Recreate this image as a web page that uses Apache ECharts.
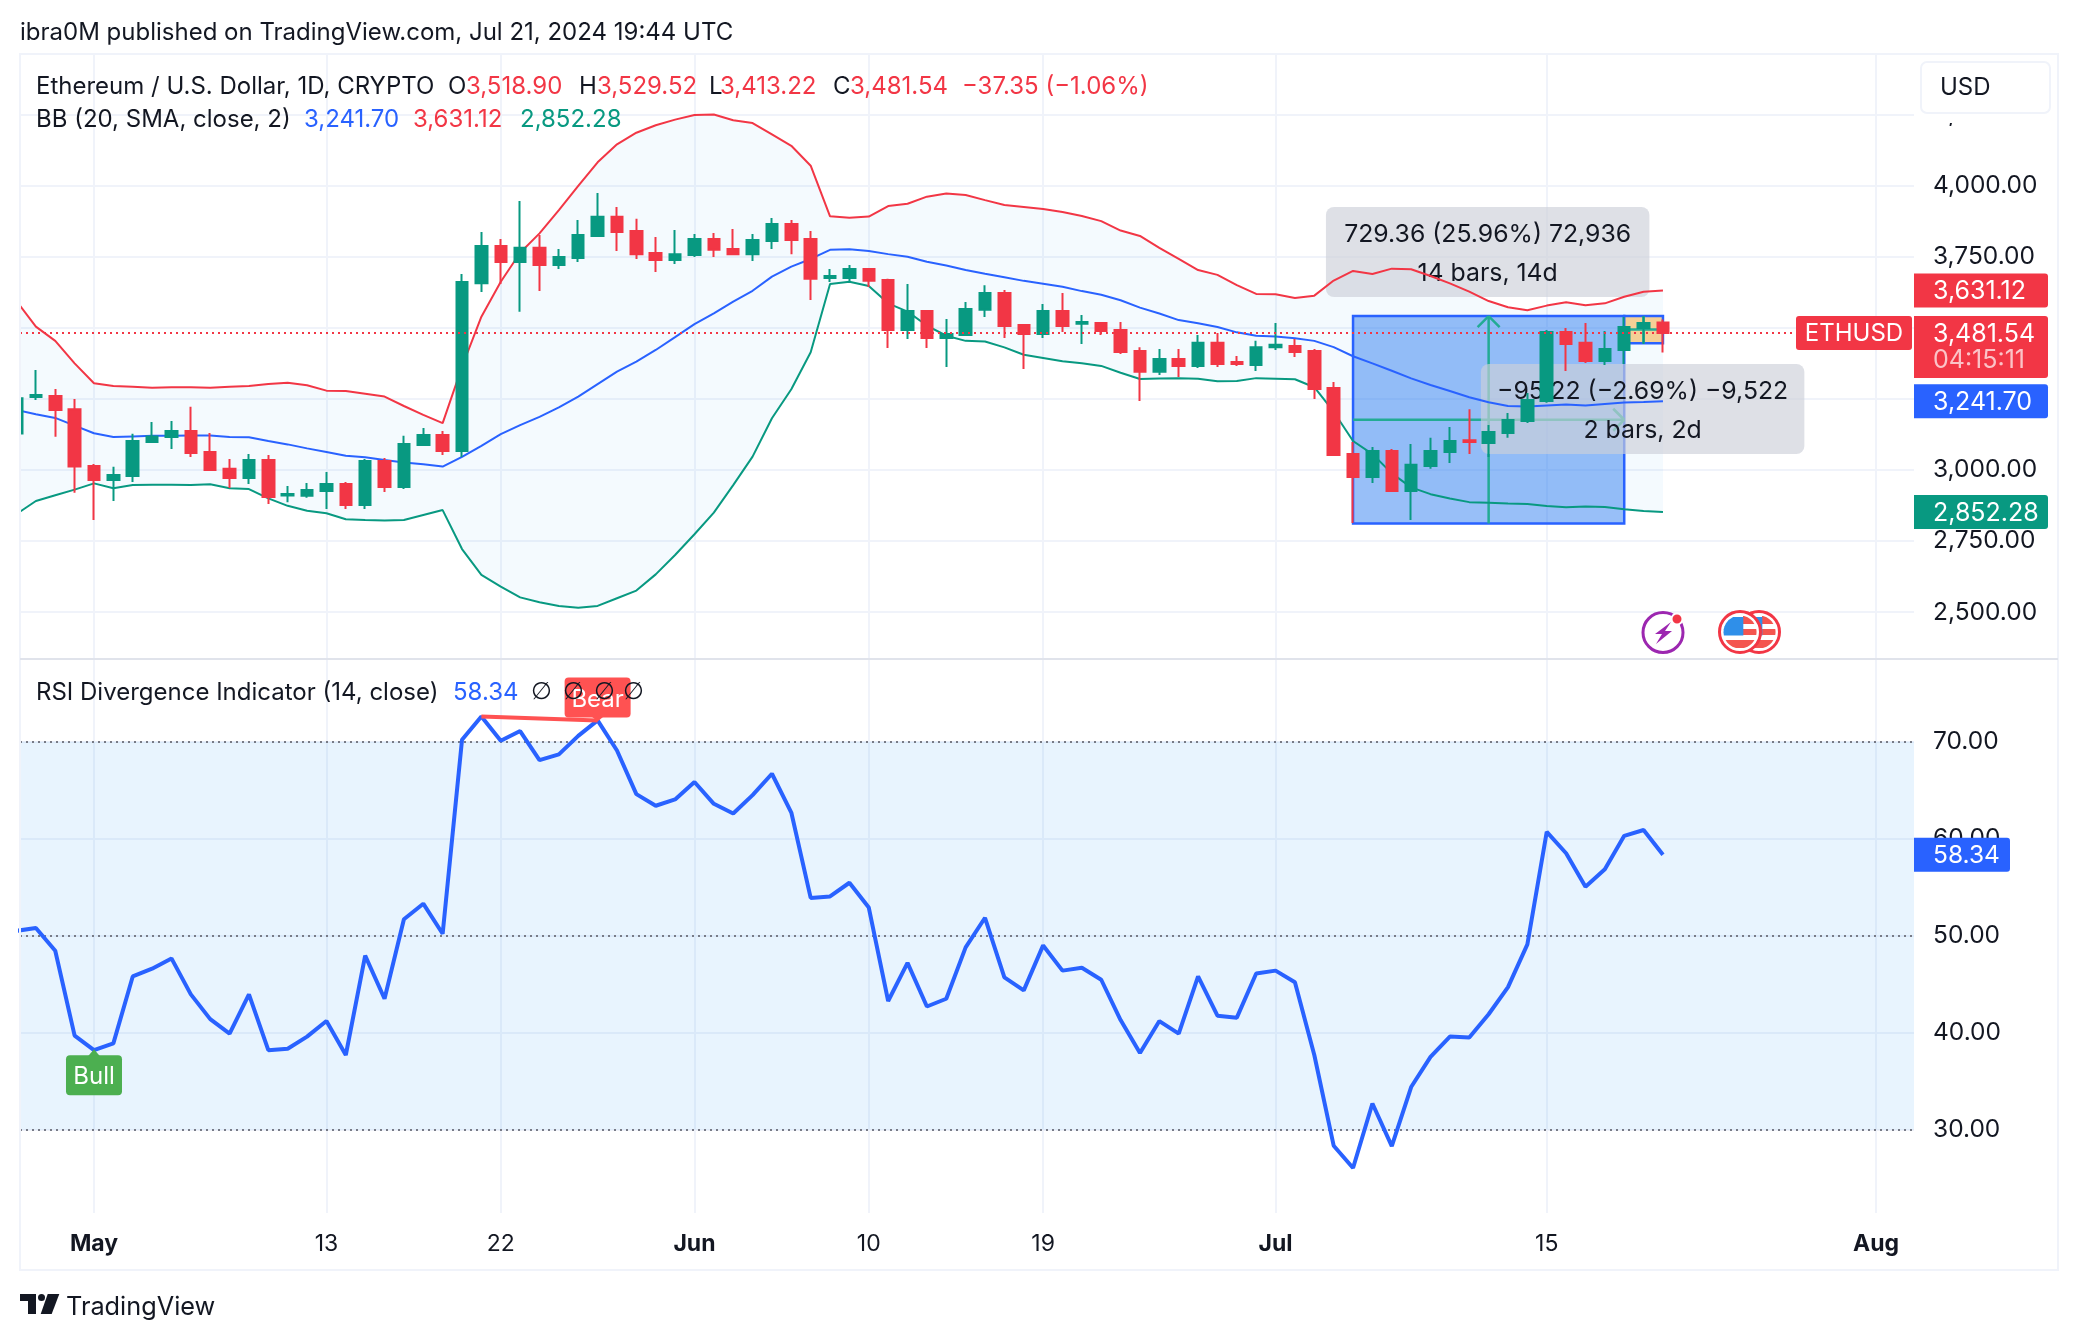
<!DOCTYPE html>
<html>
<head>
<meta charset="utf-8">
<style>
  html, body { margin: 0; padding: 0; background: #fff; }
  #chart { width: 2078px; height: 1340px; }
</style>
<script src="https://cdn.jsdelivr.net/npm/echarts@6/dist/echarts.min.js"></script>
</head>
<body>
<div id="chart"></div>
<script>
// days are counted from May 1, the first candle is Apr 27
const firstDay = -4
const opens = [3128,3257,3260,3214,3014,2965,2979,3098,3116,3137,3063,3004,2972,3035,2910,2909,2926,2951,2877,3032,2940,3088,3123,3067,3657,3788,3731,3781,3721,3745,3823,3890,3840,3763,3738,3756,3812,3777,3759,3805,3865,3812,3675,3675,3707,3668,3492,3559,3464,3475,3563,3622,3510,3478,3559,3514,3517,3492,3418,3345,3390,3366,3447,3380,3369,3432,3436,3418,3288,3056,2975,3067,2926,3014,3063,3105,3095,3130,3172,3243,3485,3447,3383,3422,3499,3518.90]
const closes = [3252,3264,3211,3012,2965,2982,3102,3118,3137,3060,3000,2972,3035,2905,2916,2930,2951,2877,3032,2940,3091,3123,3067,3661,3788,3731,3781,3721,3749,3826,3890,3837,3759,3738,3759,3812,3774,3759,3809,3865,3809,3672,3682,3707,3665,3492,3559,3464,3478,3566,3622,3506,3478,3559,3506,3520,3489,3415,3345,3390,3366,3447,3373,3373,3432,3440,3415,3285,3053,2975,3067,2926,3018,3067,3102,3098,3134,3176,3246,3485,3443,3383,3425,3503,3517,3481.54]
const lows = [3120,3246,3117,2920,2824,2891,2958,3095,3074,3046,3000,2937,2951,2880,2887,2902,2863,2863,2863,2923,2933,3084,3053,3046,3626,3654,3556,3629,3707,3731,3819,3770,3742,3696,3724,3749,3749,3756,3735,3777,3759,3598,3661,3661,3643,3429,3461,3429,3362,3471,3538,3464,3355,3464,3485,3443,3475,3408,3243,3334,3327,3359,3362,3366,3348,3422,3397,3250,3049,2814,2954,2923,2824,3004,3025,3056,3046,3113,3165,3236,3348,3376,3369,3373,3443,3413.22]
const highs = [3264,3352,3285,3250,3021,3011,3127,3169,3172,3222,3130,3039,3056,3053,2944,2954,2993,2958,3039,3042,3120,3148,3137,3689,3837,3812,3946,3826,3777,3879,3974,3925,3883,3819,3844,3830,3833,3847,3830,3886,3879,3840,3707,3721,3710,3672,3654,3562,3531,3591,3650,3633,3513,3584,3622,3545,3520,3520,3432,3425,3425,3475,3482,3401,3454,3517,3461,3425,3309,3098,3081,3074,3091,3113,3151,3214,3158,3200,3271,3492,3499,3517,3489,3538,3541,3529.52]
const bbBasis = [3211,3196,3183,3156,3129,3116,3118,3120,3120,3121,3121,3116,3115,3102,3090,3076,3063,3050,3045,3035,3026,3020,3012,3046,3085,3126,3158,3187,3220,3258,3302,3346,3381,3422,3467,3513,3551,3592,3630,3680,3715,3742,3774,3776,3770,3759,3750,3732,3719,3703,3690,3678,3665,3655,3644,3629,3616,3597,3571,3550,3527,3516,3503,3484,3472,3469,3463,3454,3432,3400,3375,3349,3322,3299,3278,3256,3238,3225,3223,3227,3230,3227,3232,3237,3239,3241.70]
const bbUpper = [3594,3504,3454,3375,3305,3295,3293,3289,3291,3291,3289,3293,3295,3302,3307,3298,3279,3278,3268,3258,3225,3194,3165,3363,3539,3662,3764,3832,3914,3999,4082,4145,4186,4212,4232,4248,4250,4230,4220,4180,4140,4070,3892,3887,3891,3928,3936,3961,3972,3967,3949,3932,3925,3918,3907,3893,3875,3842,3823,3781,3742,3703,3686,3650,3619,3618,3605,3613,3666,3700,3689,3708,3706,3682,3656,3627,3594,3572,3562,3578,3590,3579,3586,3609,3627,3631.12]
const bbLower = [2845,2891,2911,2931,2953,2936,2947,2948,2948,2947,2950,2936,2933,2900,2874,2857,2848,2827,2824,2822,2824,2842,2859,2722,2631,2590,2552,2535,2522,2516,2522,2549,2576,2633,2701,2774,2850,2947,3047,3182,3284,3414,3654,3662,3647,3586,3557,3508,3472,3454,3452,3431,3405,3394,3382,3375,3366,3342,3320,3322,3323,3321,3312,3313,3323,3321,3319,3291,3205,3102,3056,2988,2939,2915,2900,2887,2885,2882,2880,2873,2869,2872,2870,2862,2856,2852.28]
const rsi = [50.5,50.8,48.45,39.7,38.2,38.9,45.8,46.6,47.66,43.95,41.4,39.9,43.95,38.2,38.35,39.6,41.2,37.7,47.95,43.5,51.7,53.3,50.2,70.2,72.6,70.1,71.1,68.1,68.7,70.6,72.2,69.1,64.6,63.4,64.05,65.85,63.6,62.6,64.5,66.7,62.7,53.9,54.05,55.46,52.9,43.27,47.2,42.7,43.5,48.8,51.85,45.7,44.36,49.0,46.4,46.7,45.46,41.3,37.9,41.2,39.9,45.8,41.75,41.55,46.1,46.4,45.2,37.7,28.35,26.05,32.7,28.3,34.4,37.5,39.6,39.5,41.9,44.7,49.1,60.7,58.5,55.05,56.85,60.3,60.9,58.34]

const tickDays = [0, 12, 21, 31, 40, 49, 61, 75, 92]
const tickNames = ['May', '13', '22', 'Jun', '10', '19', 'Jul', '15', 'Aug']
const priceTicks = [2500, 2750, 3000, 3250, 3500, 3750, 4000, 4250]
const rsiTicks = [30, 40, 50, 60, 70]

const RED = '#f23645'
const GREEN = '#089981'
const BLUE = '#2962ff'
const INK = '#131722'
const GRID = '#f0f3fa'
const FONT = 'Inter'

const days = opens.map((_, i) => i + firstDay)
const candles = days.map((d, i) => [d, opens[i], closes[i], lows[i], highs[i]])
const pairs = (arr) => days.map((d, i) => [d, arr[i]])

// blue/orange price ranges, then the two grey measure boxes
const ranges = [
  { from: 65, to: 79, low: 2812, high: 3541.36, fill: 'rgba(30,115,240,.46)' },
  { from: 79, to: 81, low: 3446, high: 3541.36, fill: 'rgb(245,208,150)' }
]
const boxes = [
  { from: 63.6, to: 80.3, top: 3925, bottom: 3608, lines: ['729.36 (25.96%) 72,936', '14 bars, 14d'] },
  { from: 71.6, to: 88.3, top: 3373, bottom: 3056, lines: ['\u221295.22 (\u22122.69%) \u22129,522', '2 bars, 2d'] }
]

function bandItem(params, api) {
  const top = bbUpper.map((v, i) => api.coord([days[i], v]))
  const bottom = bbLower.map((v, i) => api.coord([days[i], v])).reverse()
  return {
    type: 'polygon',
    shape: { points: top.concat(bottom) },
    style: { fill: 'rgba(33,150,243,.05)' }
  }
}

function segment(a, b) {
  return {
    type: 'line',
    shape: { x1: a[0], y1: a[1], x2: b[0], y2: b[1] },
    style: { stroke: '#22ab94', lineWidth: 2.5 }
  }
}

function rangeItem(params, api) {
  const r = ranges[params.dataIndex]
  const tl = api.coord([r.from, r.high])
  const br = api.coord([r.to, r.low])
  const midX = (tl[0] + br[0]) / 2
  const midY = (tl[1] + br[1]) / 2
  const children = [{
    type: 'rect',
    shape: { x: tl[0], y: tl[1], width: br[0] - tl[0], height: br[1] - tl[1] },
    style: { fill: r.fill, stroke: BLUE, lineWidth: 2.5 }
  }, segment([midX, br[1]], [midX, tl[1]]), segment([tl[0], midY], [br[0], midY])]
  if (params.dataIndex === 0) {
    children.push(
      segment([midX, tl[1]], [midX - 11, tl[1] + 11]), segment([midX, tl[1]], [midX + 11, tl[1] + 11]),
      segment([br[0], midY], [br[0] - 11, midY - 11]), segment([br[0], midY], [br[0] - 11, midY + 11])
    )
  }
  return { type: 'group', children }
}

function boxItem(params, api) {
  const b = boxes[params.dataIndex]
  const tl = api.coord([b.from, b.top])
  const br = api.coord([b.to, b.bottom])
  const cx = (tl[0] + br[0]) / 2
  const h = br[1] - tl[1]
  return {
    type: 'group',
    children: [{
      type: 'rect',
      shape: { x: tl[0], y: tl[1], width: br[0] - tl[0], height: h, r: 8 },
      style: { fill: 'rgba(205,208,216,.65)' }
    }].concat(b.lines.map((line, i) => ({
      type: 'text',
      style: {
        x: cx, y: tl[1] + h * (i === 0 ? 0.29 : 0.73) + 1, text: line, fill: INK,
        font: '24.8px ' + FONT, align: 'center', verticalAlign: 'middle'
      }
    })))
  }
}

// value tags in the right hand scale
const priceTags = [
  { value: 3631.12, text: '3,631.12', color: RED },
  { value: 3241.70, text: '3,241.70', color: BLUE },
  { value: 2852.28, text: '2,852.28', color: GREEN },
  { value: 3481.54, text: '3,481.54', color: RED, sub: '04:15:11', name: 'ETHUSD' }
]

function tagItem(params, api) {
  const t = priceTags[params.dataIndex]
  const y = api.coord([0, t.value])[1]
  const children = [{
    type: 'rect',
    shape: { x: 1914, y: y - 17, width: 134, height: t.sub ? 62 : 34, r: [0, 3, 3, 0] },
    style: { fill: t.color }
  }, {
    type: 'text',
    style: { x: 1933, y: y + 1, text: t.text, fill: '#fff', font: '25px ' + FONT, verticalAlign: 'middle' }
  }]
  if (t.sub) {
    children.push({
      type: 'text',
      style: { x: 1933, y: y + 27, text: t.sub, fill: 'rgba(255,255,255,.7)', font: '25px ' + FONT, verticalAlign: 'middle' }
    }, {
      type: 'rect',
      shape: { x: 1796, y: y - 17, width: 116, height: 34, r: 3 },
      style: { fill: t.color }
    }, {
      type: 'text',
      style: { x: 1854, y: y + 1, text: t.name, fill: '#fff', font: '24px ' + FONT, align: 'center', verticalAlign: 'middle' }
    })
  }
  return { type: 'group', children }
}

function rsiTagItem(params, api) {
  const y = api.coord([0, 58.34])[1]
  return {
    type: 'group',
    children: [{
      type: 'rect',
      shape: { x: 1914, y: y - 17, width: 96, height: 34, r: [0, 3, 3, 0] },
      style: { fill: BLUE }
    }, {
      type: 'text',
      style: { x: 1933, y: y + 1, text: '58.34', fill: '#fff', font: '24.5px ' + FONT, verticalAlign: 'middle' }
    }]
  }
}

// Bull / Bear flags sit on the rsi line
const signals = [
  { day: 0, value: 38.2, text: 'Bull', color: '#4caf50', below: true },
  { day: 26, value: 72.2, text: 'Bear', color: '#ff5252', below: false }
]

function signalItem(params, api) {
  const s = signals[params.dataIndex]
  const p = api.coord([s.day, s.value])
  const w = s.below ? 56 : 66
  const boxY = s.below ? p[1] + 5 : p[1] - 43
  const tip = s.below ? [[p[0] - 6, boxY + 1], [p[0], p[1] - 1], [p[0] + 6, boxY + 1]] : [[p[0] - 6, boxY + 39], [p[0], p[1] + 1], [p[0] + 6, boxY + 39]]
  return {
    type: 'group',
    children: [
      { type: 'polygon', shape: { points: tip }, style: { fill: s.color } },
      { type: 'rect', shape: { x: p[0] - w / 2, y: boxY, width: w, height: 40, r: 4 }, style: { fill: s.color } },
      { type: 'text', style: { x: p[0], y: boxY + 22, text: s.text, fill: '#fff', font: '24px ' + FONT, align: 'center', verticalAlign: 'middle' } }
    ]
  }
}

function txt(x, y, text, fill, extra) {
  return Object.assign({
    type: 'text', x, y, z: 50,
    style: { text, fill: fill || INK, font: '24px ' + FONT, verticalAlign: 'middle' }
  }, extra)
}

const noValue = (x) => txt(x, 693, '\u2205', INK, { style: { text: '\u2205', fill: INK, font: '24px Roboto', verticalAlign: 'middle' } })

const legendTexts = [
  txt(20, 33, 'ibra0M published on TradingView.com, Jul 21, 2024 19:44 UTC'),
  txt(36, 87, 'Ethereum / U.S. Dollar, 1D, CRYPTO'),
  txt(448, 87, 'O'), txt(466, 87, '3,518.90', RED),
  txt(579, 87, 'H'), txt(597, 87, '3,529.52', RED),
  txt(709, 87, 'L'), txt(720, 87, '3,413.22', RED),
  txt(833, 87, 'C'), txt(850, 87, '3,481.54', RED),
  txt(962, 87, '\u221237.35 (\u22121.06%)', RED),
  txt(36, 120, 'BB (20, SMA, close, 2)'),
  txt(304, 120, '3,241.70', BLUE), txt(413, 120, '3,631.12', RED), txt(520, 120, '2,852.28', GREEN),
  txt(36, 693, 'RSI Divergence Indicator (14, close)'),
  txt(453, 693, '58.34', BLUE),
  noValue(531), noValue(563), noValue(594), noValue(623)
]

// white strip hides what the first candle leaves outside the plot
const frame = [
  { type: 'rect', z: 30, shape: { x: 0, y: 54, width: 19, height: 605 }, style: { fill: '#fff' } },
  { type: 'rect', z: 31, shape: { x: 20, y: 54, width: 2038, height: 1216 }, style: { fill: 'none', stroke: GRID, lineWidth: 2 } },
  { type: 'line', z: 31, shape: { x1: 20, y1: 659, x2: 2058, y2: 659 }, style: { stroke: '#e0e3eb', lineWidth: 2 } }
]

const usdButton = [
  { type: 'rect', z: 40, shape: { x: 1915, y: 60, width: 140, height: 63 }, style: { fill: '#fff' } },
  { type: 'rect', z: 41, shape: { x: 1921, y: 62, width: 129, height: 51, r: 6 }, style: { fill: '#fff', stroke: GRID, lineWidth: 2 } },
  txt(1940, 88, 'USD', INK, { z: 42 })
]

// points of a slice of a circle between two heights, for the flag stripes
function slice(cx, cy, r, y1, y2, fromX, toRight) {
  const pts = toRight ? [[cx + fromX, cy + y1]] : []
  for (let y = y1; y <= y2 + 0.01; y += (y2 - y1) / 6) {
    const dx = Math.sqrt(Math.max(r * r - y * y, 0))
    pts.push([cx + (toRight ? dx : -dx), cy + y])
  }
  if (toRight) pts.push([cx + fromX, cy + y2])
  else pts.push([cx + fromX, cy + y2], [cx + fromX, cy + y1])
  return pts
}

function flag(cx, cy, z) {
  const r = 16.5
  const stripe = (pts, fill) => ({ type: 'polygon', z: z + 1, shape: { points: pts }, style: { fill } })
  return [
    { type: 'circle', z, shape: { cx, cy, r: 20.5 }, style: { fill: '#fff', stroke: RED, lineWidth: 3 } },
    stripe(slice(cx, cy, r, -16, -8, 3, true), '#f4554f'),
    stripe(slice(cx, cy, r, -3, 3, 3, true), '#f4554f'),
    stripe(slice(cx, cy, r, 8, 16, 0, true), '#f4554f'),
    stripe(slice(cx, cy, r, 8, 16, 0, false), '#f4554f'),
    stripe(slice(cx, cy, r, -15, 3.5, 3.3, false), '#2f8fe9')
  ]
}

const bolt = [[1671, 622], [1655, 634], [1662, 634], [1656, 644], [1672, 631], [1665, 631]]

const icons = [
  { type: 'circle', z: 30, shape: { cx: 1663, cy: 632.5, r: 20 }, style: { fill: '#fff', stroke: '#9c27b0', lineWidth: 3 } },
  { type: 'polygon', z: 31, shape: { points: bolt }, style: { fill: '#9c27b0' } },
  { type: 'circle', z: 32, shape: { cx: 1677, cy: 619, r: 5.5 }, style: { fill: RED, stroke: '#fff', lineWidth: 2 } }
].concat(flag(1759, 632, 30), flag(1740, 632, 33))

const logo = [
  { type: 'polygon', z: 30, shape: { points: [[20, 1294], [36, 1294], [36, 1314], [28, 1314], [28, 1301], [20, 1301]] }, style: { fill: INK } },
  { type: 'polygon', z: 30, shape: { points: [[47.7, 1294], [59.3, 1294], [51.7, 1314], [40.7, 1314]] }, style: { fill: INK } },
  { type: 'circle', z: 30, shape: { cx: 41.5, cy: 1297.5, r: 3.5 }, style: { fill: INK } },
  txt(66, 1307, 'TradingView', INK, { style: { text: 'TradingView', fill: INK, font: '25.3px ' + FONT, verticalAlign: 'middle' } })
]

const chart = echarts.init(document.getElementById('chart'), null, { renderer: 'canvas' })

const xRange = { min: -3.82, max: 93.96 }
const vLine = { show: true, lineStyle: { color: GRID, width: 2 } }
const hLine = { show: true, lineStyle: { color: GRID, width: 2 } }

chart.setOption({
  animation: false,
  backgroundColor: '#fff',
  graphic: { elements: frame.concat(usdButton, icons, logo, legendTexts) },
  grid: [
    { left: 20, top: 54, width: 1894, height: 605 },
    { left: 20, top: 659, width: 1894, height: 554 }
  ],
  xAxis: [
    {
      gridIndex: 0, type: 'value', ...xRange,
      axisLine: { show: false }, axisLabel: { show: false },
      axisTick: { show: false, customValues: tickDays }, splitLine: vLine
    },
    {
      gridIndex: 1, type: 'value', ...xRange,
      axisLine: { show: false },
      axisTick: { show: false, customValues: tickDays }, splitLine: vLine,
      axisLabel: {
        customValues: tickDays, margin: 20, color: INK, fontFamily: FONT, fontSize: 23,
        formatter: (v) => {
          const name = tickNames[tickDays.indexOf(v)]
          return isNaN(Number(name)) ? '{m|' + name + '}' : name
        },
        rich: { m: { fontFamily: FONT, fontSize: 23, fontWeight: 700, color: INK } }
      }
    }
  ],
  yAxis: [
    {
      gridIndex: 0, type: 'value', position: 'right', min: 2335.4, max: 4462.7,
      axisLine: { show: false }, splitLine: hLine,
      axisTick: { show: false, customValues: priceTicks },
      axisLabel: {
        customValues: priceTicks, margin: 19, color: INK, fontFamily: FONT, fontSize: 24.5,
        formatter: (v) => v.toLocaleString('en-US', { minimumFractionDigits: 2 })
      }
    },
    {
      gridIndex: 1, type: 'value', position: 'right', min: 21.41, max: 78.53,
      axisLine: { show: false }, splitLine: hLine,
      axisTick: { show: false, customValues: rsiTicks },
      axisLabel: {
        customValues: rsiTicks, margin: 19, color: INK, fontFamily: FONT, fontSize: 24.5,
        padding: [3, 0, 0, 0],
        formatter: (v) => v.toFixed(2)
      }
    }
  ],
  series: [
    { type: 'custom', z: 1, clip: true, silent: true, xAxisIndex: 0, yAxisIndex: 0, renderItem: bandItem, data: [[0, 3000]] },
    { type: 'custom', z: 2, silent: true, xAxisIndex: 0, yAxisIndex: 0, renderItem: rangeItem, data: ranges.map((r) => [r.from, r.low]) },
    { type: 'custom', z: 2, silent: true, xAxisIndex: 0, yAxisIndex: 0, renderItem: boxItem, data: boxes.map((b) => [b.from, b.bottom]) },
    { type: 'line', z: 3, xAxisIndex: 0, yAxisIndex: 0, data: pairs(bbUpper), showSymbol: false, silent: true, lineStyle: { color: RED, width: 2 } },
    { type: 'line', z: 3, xAxisIndex: 0, yAxisIndex: 0, data: pairs(bbBasis), showSymbol: false, silent: true, lineStyle: { color: BLUE, width: 2 } },
    { type: 'line', z: 3, xAxisIndex: 0, yAxisIndex: 0, data: pairs(bbLower), showSymbol: false, silent: true, lineStyle: { color: GREEN, width: 2 } },
    {
      type: 'candlestick', z: 4, xAxisIndex: 0, yAxisIndex: 0, data: candles, barWidth: 12, silent: true,
      itemStyle: { color: GREEN, color0: RED, borderColor: GREEN, borderColor0: RED, borderWidth: 2 },
      markLine: {
        silent: true, symbol: 'none', label: { show: false },
        lineStyle: { color: RED, type: [2, 4], width: 2 },
        data: [{ yAxis: closes[closes.length - 1] }]
      }
    },
    { type: 'custom', z: 20, silent: true, xAxisIndex: 0, yAxisIndex: 0, renderItem: tagItem, data: priceTags.map((t) => [0, t.value]) },
    {
      type: 'line', z: 5, xAxisIndex: 1, yAxisIndex: 1, data: pairs(rsi), showSymbol: false, silent: true,
      lineStyle: { color: BLUE, width: 4 },
      markArea: { silent: true, itemStyle: { color: 'rgba(33,150,243,.1)' }, data: [[{ yAxis: 70 }, { yAxis: 30 }]] },
      markLine: {
        silent: true, symbol: 'none', label: { show: false },
        lineStyle: { color: '#787b86', type: [2, 4], width: 2 },
        data: [{ yAxis: 70 }, { yAxis: 50 }, { yAxis: 30 }]
      }
    },
    {
      type: 'line', z: 6, xAxisIndex: 1, yAxisIndex: 1, showSymbol: false, silent: true,
      data: [[20, 72.6], [26, 72.2]], lineStyle: { color: '#ff5252', width: 4 }
    },
    { type: 'custom', z: 7, silent: true, xAxisIndex: 1, yAxisIndex: 1, renderItem: signalItem, data: signals.map((s) => [s.day, s.value]) },
    { type: 'custom', z: 20, silent: true, xAxisIndex: 1, yAxisIndex: 1, renderItem: rsiTagItem, data: [[0, 58.34]] }
  ]
})
</script>
</body>
</html>
